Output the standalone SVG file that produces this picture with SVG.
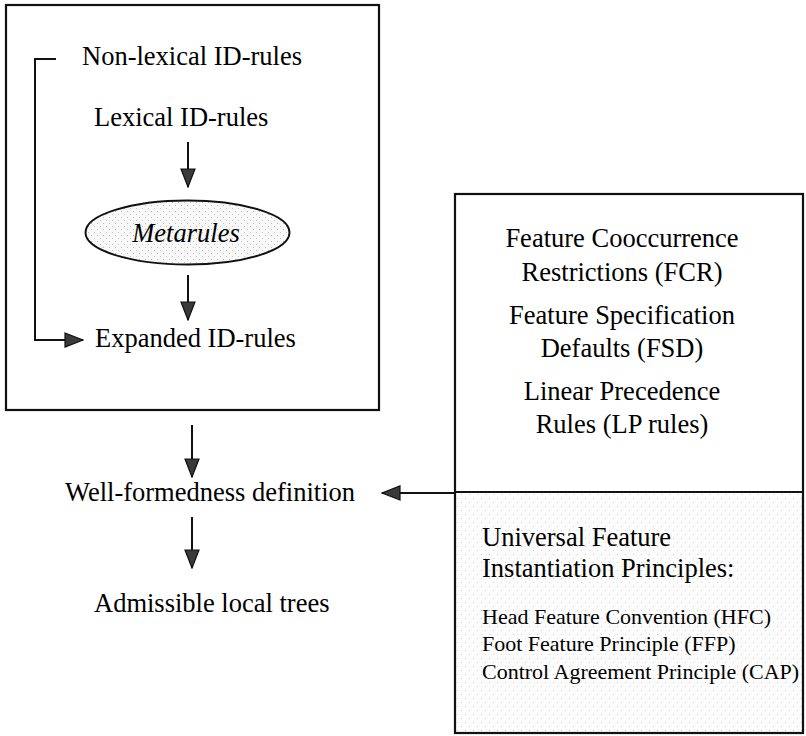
<svg xmlns="http://www.w3.org/2000/svg" width="806" height="736" viewBox="0 0 806 736">
  <style>
    .t { font-family: "Liberation Serif", "Times New Roman", serif; font-size: 26.5px; fill: #000; }
    .s { font-family: "Liberation Serif", "Times New Roman", serif; font-size: 22px; fill: #000; }
    .c { text-anchor: middle; }
    .box { fill: none; stroke: #111; stroke-width: 2.2; }
    .edge { fill: none; stroke: #111; stroke-width: 2; }
  </style>
  <defs>
    <marker id="ah" viewBox="0 0 20 16" refX="19" refY="8" markerWidth="20" markerHeight="16" markerUnits="userSpaceOnUse" orient="auto">
      <path d="M1,1 L19,8 L1,15 Z" fill="#3a3a3a" stroke="#111" stroke-width="1.2"/>
    </marker>
    <!-- light stipple for shaded areas -->
    <pattern id="stipple" width="8" height="8" patternUnits="userSpaceOnUse">
      <rect width="8" height="8" fill="#fdfdfd"/>
      <rect x="1" y="2" width="1" height="1" fill="#c8c8c8"/>
      <rect x="5" y="6" width="1" height="1" fill="#d4d4d4"/>
    </pattern>
    <pattern id="stippleDense" width="6" height="6" patternUnits="userSpaceOnUse">
      <rect width="6" height="6" fill="#f8f8f8"/>
      <rect x="1" y="1" width="1" height="1" fill="#bbb"/>
      <rect x="4" y="4" width="1" height="1" fill="#c6c6c6"/>
    </pattern>
  </defs>

  <!-- ID-rule block -->
  <g id="idrules-box">
    <rect class="box" x="6" y="5" width="373" height="405"/>
  </g>
  <g id="nonlexical">
    <text class="t" x="82" y="65">Non-lexical ID-rules</text>
  </g>
  <g id="lexical">
    <text class="t" x="94" y="126">Lexical ID-rules</text>
  </g>
  <g id="metarules">
    <ellipse cx="187.5" cy="232.5" rx="102" ry="32" fill="url(#stippleDense)" stroke="#111" stroke-width="2"/>
    <text class="t c" x="186" y="242" font-style="italic">Metarules</text>
  </g>
  <g id="expanded">
    <text class="t" x="95" y="347">Expanded ID-rules</text>
  </g>

  <g id="wellformedness">
    <text class="t" x="65" y="501">Well-formedness definition</text>
  </g>
  <g id="admissible">
    <text class="t" x="94" y="612">Admissible local trees</text>
  </g>

  <!-- constraint block -->
  <g id="constraints-box">
    <rect x="455" y="492" width="348" height="241" fill="url(#stipple)"/>
    <rect class="box" x="455" y="194" width="348" height="539"/>
    <line class="box" x1="455" y1="492" x2="803" y2="492"/>
  </g>
  <g id="fcr">
    <text class="t c" x="622" y="247">Feature Cooccurrence</text>
    <text class="t c" x="622" y="281">Restrictions (FCR)</text>
  </g>
  <g id="fsd">
    <text class="t c" x="622" y="324">Feature Specification</text>
    <text class="t c" x="622" y="357">Defaults (FSD)</text>
  </g>
  <g id="lp">
    <text class="t c" x="622" y="400">Linear Precedence</text>
    <text class="t c" x="622" y="433">Rules (LP rules)</text>
  </g>
  <g id="ufip">
    <text class="t" x="482" y="546">Universal Feature</text>
    <text class="t" x="482" y="577">Instantiation Principles:</text>
    <text class="s" x="482" y="624">Head Feature Convention (HFC)</text>
    <text class="s" x="482" y="651">Foot Feature Principle (FFP)</text>
    <text class="s" x="482" y="679">Control Agreement Principle (CAP)</text>
  </g>

  <!-- connectors -->
  <g id="connectors">
    <path class="edge" d="M188,142 V187" marker-end="url(#ah)"/>
    <path class="edge" d="M188,275 V320" marker-end="url(#ah)"/>
    <path class="edge" d="M56,59 H35 V340 H83" marker-end="url(#ah)"/>
    <path class="edge" d="M192,425 V477" marker-end="url(#ah)"/>
    <path class="edge" d="M192,517 V568" marker-end="url(#ah)"/>
    <path class="edge" d="M455,493 H382" marker-end="url(#ah)"/>
  </g>
</svg>
